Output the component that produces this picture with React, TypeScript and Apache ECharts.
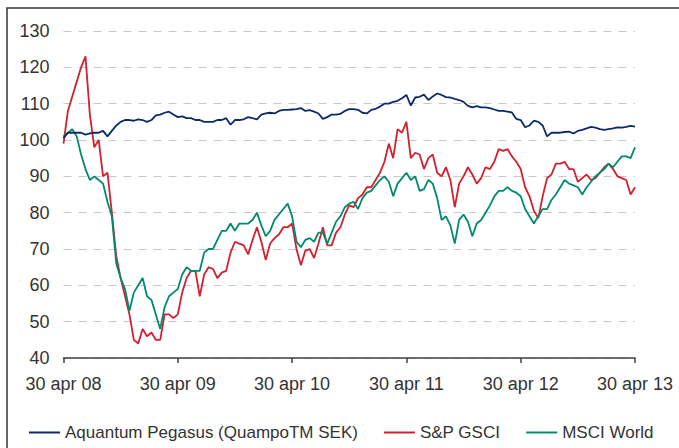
import React, { useEffect, useRef } from "react";
import * as echarts from "echarts";

const tickLabels = ["30 apr 08", "30 apr 09", "30 apr 10", "30 apr 11", "30 apr 12", "30 apr 13"];
const seriesNames = ["Aquantum Pegasus (QuampoTM SEK)", "S&P GSCI", "MSCI World"];
const seriesColors = ["#0c2a6a", "#d2202f", "#008a6e"];

// biweekly observations, 30 apr 08 .. 30 apr 13
const pegasus = [
  100.5, 102, 102, 102, 102, 101.5, 101.8, 102, 102, 102.5, 101, 102.5, 104, 105, 105.5, 105.5, 105.3, 105.7, 105.5, 105, 105.5, 106.8, 107, 107.5, 107.8, 107, 106.3, 106.5, 106, 106, 105.5, 105.5, 105, 105,
  105, 105.5, 105.5, 106, 104.2, 105.5, 105.5, 105.7, 106.3, 106, 105.7, 107, 107.3, 107.5, 107.3, 108, 108.3, 108.3, 108.4, 108.5, 108.8, 108, 108.2, 107.8, 107.3, 105.8, 106.3, 107, 107, 107.2, 108, 108.5, 108.5,
  108.3, 107.5, 107.3, 108.3, 108.6, 109.2, 110, 110, 110.5, 110.8, 111.5, 112.4, 109.5, 111.7, 111.9, 112.5, 111, 112, 112.8, 112.4, 111.8, 111.7, 111.3, 111, 110.5, 109.4, 109, 109.3, 109, 109, 108.8, 108.4, 108,
  108, 107.8, 107.6, 105.8, 105.5, 103.5, 104, 105.3, 105, 104, 101, 102, 102, 102, 102.2, 102.3, 101.8, 102.5, 102.8, 103.2, 103.6, 103.4, 103, 102.8, 103, 103.2, 103.5, 103.4, 103.6, 103.9, 103.7,
];
const gsci = [
  99, 108, 112, 116, 120, 123, 107, 98, 100, 90, 91, 80, 68, 62, 57, 52, 45, 44, 48, 46, 47, 45, 45, 52, 52, 51, 52, 58, 62, 64, 64, 57, 63, 65,
  64.5, 62, 63.5, 64, 69, 72, 71.5, 71, 68.5, 72.5, 76, 72, 67, 71.5, 73, 74, 76, 76, 77, 70, 65.5, 69.5, 70, 67.5, 71.5, 76, 71, 71, 74.5, 76, 79.5, 82, 81.5,
  84, 85, 87, 87, 89, 91, 94, 99, 95, 103, 102, 105, 95, 96.5, 96, 92, 95, 96, 91, 90, 92.5, 89, 81.5, 88, 90, 92.5, 90.5, 88, 89.5, 92.5, 92, 94, 97.5,
  97, 97.5, 95.5, 94, 92, 87, 84.5, 80.5, 78.5, 84.5, 89.5, 90.5, 93.5, 93.5, 94, 92, 92, 88.5, 89.5, 90.5, 89, 89.5, 91, 92.5, 93.5, 92, 90, 89.5, 89, 85, 87,
];
const msci = [
  101, 102, 103, 101, 96, 92, 89, 90, 89, 88, 83, 79, 66, 62, 59, 53, 58, 60, 62, 57, 56, 52, 48, 54, 57, 58, 59, 63, 65, 64, 64, 64, 69, 70,
  70, 72.5, 75, 75, 77, 75, 77, 77, 77, 78, 80, 76.5, 73.5, 75, 78, 79.5, 81, 82.5, 79, 72, 70.5, 72.5, 73, 72, 74.5, 74.5, 71.5, 74.5, 77.5, 79, 81.5, 82.5, 83,
  81, 84, 85.5, 86, 87.5, 89, 90, 88.5, 84.5, 88, 89.5, 91, 89, 90, 86, 86.5, 89, 88, 84, 78, 79, 76.5, 71.5, 78, 79.5, 77.5, 73.5, 77, 78, 80, 82, 84.5, 86,
  86, 87, 86, 85.5, 84.5, 81, 79, 77, 79, 81, 81, 83.5, 85, 87, 89, 88, 87.5, 87, 85, 87, 88.5, 90, 91, 92, 93.5, 92.5, 94, 95.5, 95.5, 95, 98,
];

const MONTHS = 60;
const toPairs = (arr: number[]) => arr.map((v, i) => [(i * MONTHS) / (arr.length - 1), v]);

const FONT = "'Liberation Sans', Arial, sans-serif";

export default function App() {
  const ref = useRef<HTMLDivElement>(null);
  useEffect(() => {
    if (!ref.current) return;
    const chart = echarts.init(ref.current, undefined, { renderer: "svg" });
    const all = [pegasus, gsci, msci];
    chart.setOption({
      animation: false,
      backgroundColor: "#ffffff",
      textStyle: { fontFamily: FONT },
      grid: { left: 63.5, right: 44, top: 31, bottom: 90 },
      graphic: [
        {
          type: "rect",
          shape: { x: 7, y: 8, width: 720, height: 500 },
          style: { fill: "none", stroke: "#333333", lineWidth: 1.5 },
          silent: true,
        },
      ],
      legend: {
        left: 29,
        top: 424,
        padding: 0,
        icon: "rect",
        itemWidth: 31,
        itemHeight: 2,
        itemGap: 26,
        textStyle: { fontSize: 17, color: "#333333", fontFamily: FONT },
        data: seriesNames,
      },
      xAxis: {
        type: "value",
        min: 0,
        max: MONTHS,
        interval: 12,
        axisLine: { show: true, lineStyle: { color: "#404040", width: 1.5 } },
        axisTick: { show: true, length: 5, lineStyle: { color: "#404040", width: 1.5 } },
        splitLine: { show: false },
        axisLabel: {
          fontSize: 18,
          color: "#333333",
          margin: 17,
          fontFamily: FONT,
          formatter: (v: number) => tickLabels[Math.round(v / 12)] ?? "",
        },
      },
      yAxis: {
        type: "value",
        min: 40,
        max: 130,
        interval: 10,
        axisLine: { show: false },
        axisTick: { show: false },
        splitLine: { show: true, lineStyle: { color: "#c8c8c8", type: [8, 7], width: 1 } },
        axisLabel: { fontSize: 18, color: "#333333", margin: 14, fontFamily: FONT },
      },
      series: all.map((arr, k) => ({
        name: seriesNames[k],
        type: "line",
        data: toPairs(arr),
        showSymbol: false,
        symbol: "none",
        lineStyle: { color: seriesColors[k], width: 1.8 },
        itemStyle: { color: seriesColors[k] },
        z: k === 0 ? 5 : k === 1 ? 3 : 4,
      })),
    });
    return () => chart.dispose();
  }, []);
  return (
    <div
      ref={ref}
      style={{ position: "absolute", left: 0, top: 0, width: 679, height: 448 }}
    />
  );
}
